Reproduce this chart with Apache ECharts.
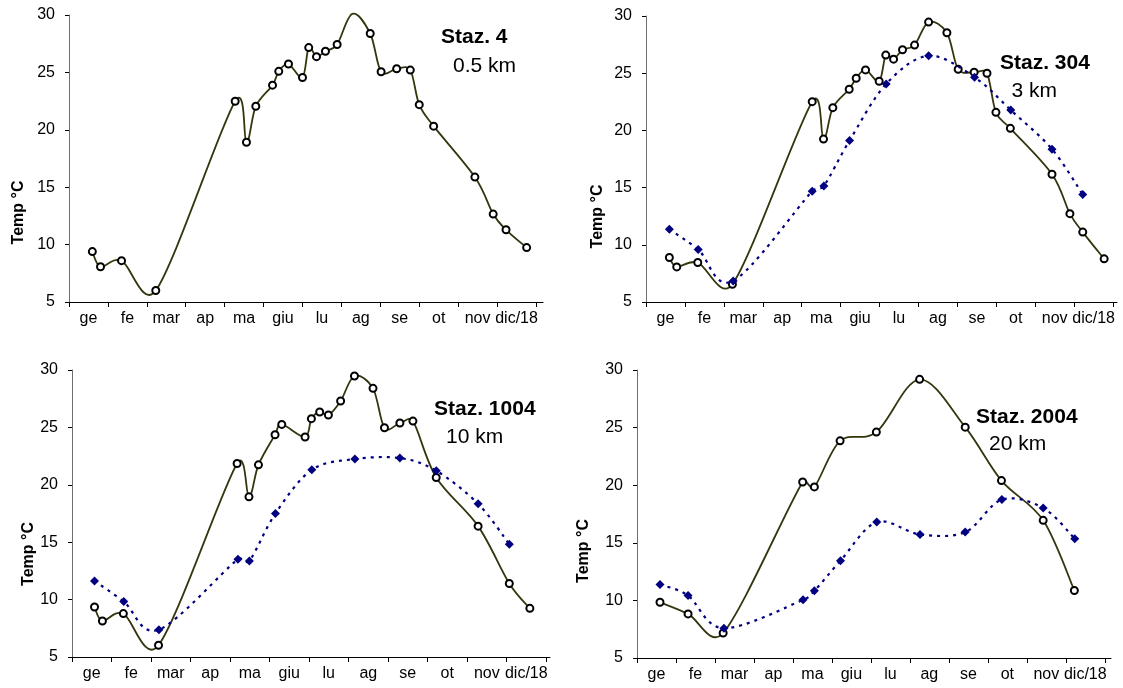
<!DOCTYPE html>
<html>
<head>
<meta charset="utf-8">
<title>Temperature stazioni</title>
<script src="https://cdn.jsdelivr.net/npm/echarts@6/dist/echarts.min.js"></script>
<style>
  html, body { margin: 0; padding: 0; background: #fff; }
  #chart { width: 1123px; height: 688px; }
</style>
</head>
<body>
<div id="chart"></div>
<script>
// Month labels (x axis is in months from 1 January)
const MONTHS = ['ge', 'fe', 'mar', 'ap', 'ma', 'giu', 'lu', 'ag', 'se', 'ot', 'nov', 'dic/18'];
const Y_TICKS = [5, 10, 15, 20, 25, 30];

// Staz. 4 (0.5 km) - single series
const STAZ4_X = [0.60, 0.81, 1.35, 2.23, 4.27, 4.56, 4.80, 5.23, 5.39, 5.64, 6.00, 6.16, 6.36, 6.59, 6.89, 7.28, 7.74, 8.02, 8.42, 8.77, 9.00, 9.37, 10.43, 10.90, 11.23, 11.76];
const STAZ4_T = [9.39, 8.07, 8.6, 6.0, 22.49, 18.92, 22.05, 23.89, 25.09, 25.73, 24.56, 27.16, 26.37, 26.84, 27.43, 30.1, 28.39, 25.06, 25.32, 25.2, 22.19, 20.32, 15.88, 12.66, 11.29, 9.74];
const STAZ4_HIDDEN = [15]; // point above the axis top: curve only, no marker

// Staz. 304 (3 km)
const STAZ304_X = [0.60, 0.79, 1.33, 2.22, 4.27, 4.56, 4.80, 5.22, 5.40, 5.64, 5.99, 6.16, 6.36, 6.59, 6.90, 7.26, 7.73, 8.02, 8.43, 8.76, 8.99, 9.36, 10.43, 10.89, 11.22, 11.77];
const STAZ304_T = [8.89, 8.07, 8.45, 6.55, 22.51, 19.24, 21.99, 23.6, 24.56, 25.29, 24.3, 26.58, 26.23, 27.05, 27.46, 29.47, 28.54, 25.35, 25.09, 25.0, 21.58, 20.18, 16.17, 12.72, 11.11, 8.77];
const STAZ304_X2 = [0.60, 1.34, 2.24, 4.27, 4.57, 5.23, 6.17, 7.26, 8.44, 9.37, 10.43, 11.22];
const STAZ304_T2 = [11.35, 9.59, 6.84, 14.68, 15.15, 19.12, 24.06, 26.52, 24.65, 21.78, 18.36, 14.39];

// Staz. 1004 (10 km)
const STAZ1004_X = [0.57, 0.77, 1.30, 2.19, 4.18, 4.48, 4.72, 5.14, 5.31, 5.90, 6.06, 6.27, 6.49, 6.80, 7.15, 7.62, 7.91, 8.30, 8.63, 9.22, 10.28, 11.07, 11.59];
const STAZ1004_T = [9.36, 8.14, 8.78, 6.02, 21.86, 18.95, 21.74, 24.36, 25.26, 24.16, 25.76, 26.34, 26.08, 27.3, 29.48, 28.4, 24.97, 25.38, 25.55, 20.64, 16.4, 11.4, 9.24];
const STAZ1004_X2 = [0.57, 1.31, 2.20, 4.20, 4.49, 5.15, 6.07, 7.16, 8.30, 9.22, 10.28, 11.07];
const STAZ1004_T2 = [11.63, 9.83, 7.38, 13.52, 13.37, 17.5, 21.31, 22.24, 22.33, 21.22, 18.34, 14.83];

// Staz. 2004 (20 km)
const STAZ2004_X = [0.59, 1.31, 2.21, 4.25, 4.55, 5.21, 6.14, 7.25, 8.42, 9.35, 10.42, 11.22];
const STAZ2004_T = [9.84, 8.83, 7.17, 20.28, 19.85, 23.85, 24.61, 29.19, 25.04, 20.4, 16.95, 10.86];
const STAZ2004_X2 = [0.59, 1.31, 2.23, 4.26, 4.55, 5.22, 6.15, 7.26, 8.42, 9.36, 10.42, 11.23];
const STAZ2004_T2 = [11.38, 10.42, 7.58, 10.05, 10.83, 13.44, 16.8, 15.73, 15.93, 18.75, 18.02, 15.35];

const FONT = "'Liberation Sans', Arial, sans-serif";
const LINE_A = '#35350e';
const LINE_B = '#000080';

const panels = [
  { grid: { left: 69, top: 15, width: 474, height: 287 }, xMax: 12.18,
    title: 'Staz. 4', dist: '0.5 km', tPos: [441, 37.5], dPos: [453, 66], namePos: [18.5, 212.5],
    a: [STAZ4_X, STAZ4_T, STAZ4_HIDDEN], b: null },
  { grid: { left: 646, top: 16, width: 471, height: 286 }, xMax: 12.10,
    title: 'Staz. 304', dist: '3 km', tPos: [1000, 63.5], dPos: [1011.5, 91], namePos: [597.5, 216.5],
    a: [STAZ304_X, STAZ304_T, []], b: [STAZ304_X2, STAZ304_T2] },
  { grid: { left: 72, top: 370, width: 478, height: 287 }, xMax: 12.10,
    title: 'Staz. 1004', dist: '10 km', tPos: [434, 409], dPos: [446, 437], namePos: [28.5, 554],
    a: [STAZ1004_X, STAZ1004_T, []], b: [STAZ1004_X2, STAZ1004_T2] },
  { grid: { left: 637, top: 370, width: 474, height: 288 }, xMax: 12.16,
    title: 'Staz. 2004', dist: '20 km', tPos: [976, 417], dPos: [989, 444], namePos: [583.5, 551],
    a: [STAZ2004_X, STAZ2004_T, []], b: [STAZ2004_X2, STAZ2004_T2] }
];

const monthTicks = MONTHS.map((m, i) => i).concat([MONTHS.length]);
const monthMids = MONTHS.map((m, i) => i + 0.5);

function dist(a, b) { return Math.hypot(b[0] - a[0], b[1] - a[1]); }

// Smoothed curve through the pixel positions the axes give for each point:
// cubic Bezier segments, tangent = (next - prev) / 6, each control arm
// limited to half of its segment length.
function splinePath(pts) {
  let d = 'M' + pts[0][0] + ' ' + pts[0][1];
  for (let i = 0; i < pts.length - 1; i++) {
    const p0 = pts[Math.max(i - 1, 0)];
    const p1 = pts[i];
    const p2 = pts[i + 1];
    const p3 = pts[Math.min(i + 2, pts.length - 1)];
    const d12 = dist(p1, p2), d02 = dist(p0, p2), d13 = dist(p1, p3);
    let f1 = 1 / 6, f2 = 1 / 6;
    if (d02 / 6 > d12 / 2 && d02 > 0) f1 = d12 / (2 * d02);
    if (d13 / 6 > d12 / 2 && d13 > 0) f2 = d12 / (2 * d13);
    const c1x = p1[0] + f1 * (p2[0] - p0[0]), c1y = p1[1] + f1 * (p2[1] - p0[1]);
    const c2x = p2[0] - f2 * (p3[0] - p1[0]), c2y = p2[1] - f2 * (p3[1] - p1[1]);
    d += ' C' + c1x + ' ' + c1y + ' ' + c2x + ' ' + c2y + ' ' + p2[0] + ' ' + p2[1];
  }
  return d;
}

function curveSeries(axisIdx, xs, ys, style, z) {
  const data = xs.map((x, k) => [x, ys[k]]);
  return {
    type: 'custom', xAxisIndex: axisIdx, yAxisIndex: axisIdx, z: z, silent: true,
    encode: { x: 0, y: 1 },
    data: data,
    renderItem: function (params, api) {
      if (params.dataIndex !== 0) return null;
      const pts = data.map(d => api.coord(d));
      return {
        type: 'path',
        shape: { pathData: splinePath(pts) },
        style: Object.assign({ fill: null }, style)
      };
    }
  };
}

const grids = [], xAxes = [], yAxes = [], series = [], graphics = [];

panels.forEach((p, i) => {
  grids.push(p.grid);
  xAxes.push({
    type: 'value', gridIndex: i, min: 0, max: p.xMax, interval: 1,
    axisLine: { show: true, onZero: false, lineStyle: { color: '#000', width: 1 } },
    axisTick: { show: true, customValues: monthTicks, length: 5, lineStyle: { color: '#000' } },
    axisLabel: {
      customValues: monthMids, margin: 9,
      formatter: v => MONTHS[Math.floor(v)] || '',
      color: '#000', fontFamily: FONT, fontSize: 16
    },
    splitLine: { show: false }
  });
  yAxes.push({
    type: 'value', gridIndex: i, min: 5, max: 30, interval: 5,
    axisLine: { show: true, lineStyle: { color: '#6e6e6e', width: 1 } },
    axisTick: { show: true, length: 4, lineStyle: { color: '#000' } },
    axisLabel: { margin: 14, color: '#000', fontFamily: FONT, fontSize: 16,
      formatter: v => (Y_TICKS.indexOf(v) >= 0 ? String(v) : '') },
    splitLine: { show: false }
  });

  const [ax, at, hidden] = p.a;
  series.push(curveSeries(i, ax, at, { stroke: LINE_A, lineWidth: 1.8 }, 2));
  series.push({
    name: 'serie 1', type: 'scatter', xAxisIndex: i, yAxisIndex: i, z: 3,
    symbol: 'circle', symbolSize: 7,
    itemStyle: { color: '#fff', borderColor: '#000', borderWidth: 2, opacity: 1 },
    data: ax.map((x, k) => hidden.indexOf(k) >= 0
      ? { value: [x, at[k]], symbol: 'none' }
      : [x, at[k]])
  });
  if (p.b) {
    const [bx, bt] = p.b;
    series.push(curveSeries(i, bx, bt, { stroke: LINE_B, lineWidth: 2.2, lineDash: [3, 5] }, 4));
    series.push({
      name: 'serie 2', type: 'scatter', xAxisIndex: i, yAxisIndex: i, z: 5,
      symbol: 'diamond', symbolSize: 9,
      itemStyle: { color: LINE_B, borderWidth: 0, opacity: 1 },
      data: bx.map((x, k) => [x, bt[k]])
    });
  }

  graphics.push({
    type: 'text', x: p.tPos[0], y: p.tPos[1],
    style: { text: p.title, font: 'bold 21px ' + FONT, fill: '#000', align: 'left', verticalAlign: 'middle' }
  });
  graphics.push({
    type: 'text', x: p.dPos[0], y: p.dPos[1],
    style: { text: p.dist, font: '21px ' + FONT, fill: '#000', align: 'left', verticalAlign: 'middle' }
  });
  graphics.push({
    type: 'text', x: p.namePos[0], y: p.namePos[1], rotation: Math.PI / 2,
    style: { text: 'Temp °C', font: 'bold 16px ' + FONT, fill: '#000', align: 'center', verticalAlign: 'middle' }
  });
});

const chart = echarts.init(document.getElementById('chart'), null, { renderer: 'canvas' });
chart.setOption({
  animation: false,
  backgroundColor: '#fff',
  grid: grids,
  xAxis: xAxes,
  yAxis: yAxes,
  series: series,
  graphic: graphics
});
</script>
</body>
</html>
